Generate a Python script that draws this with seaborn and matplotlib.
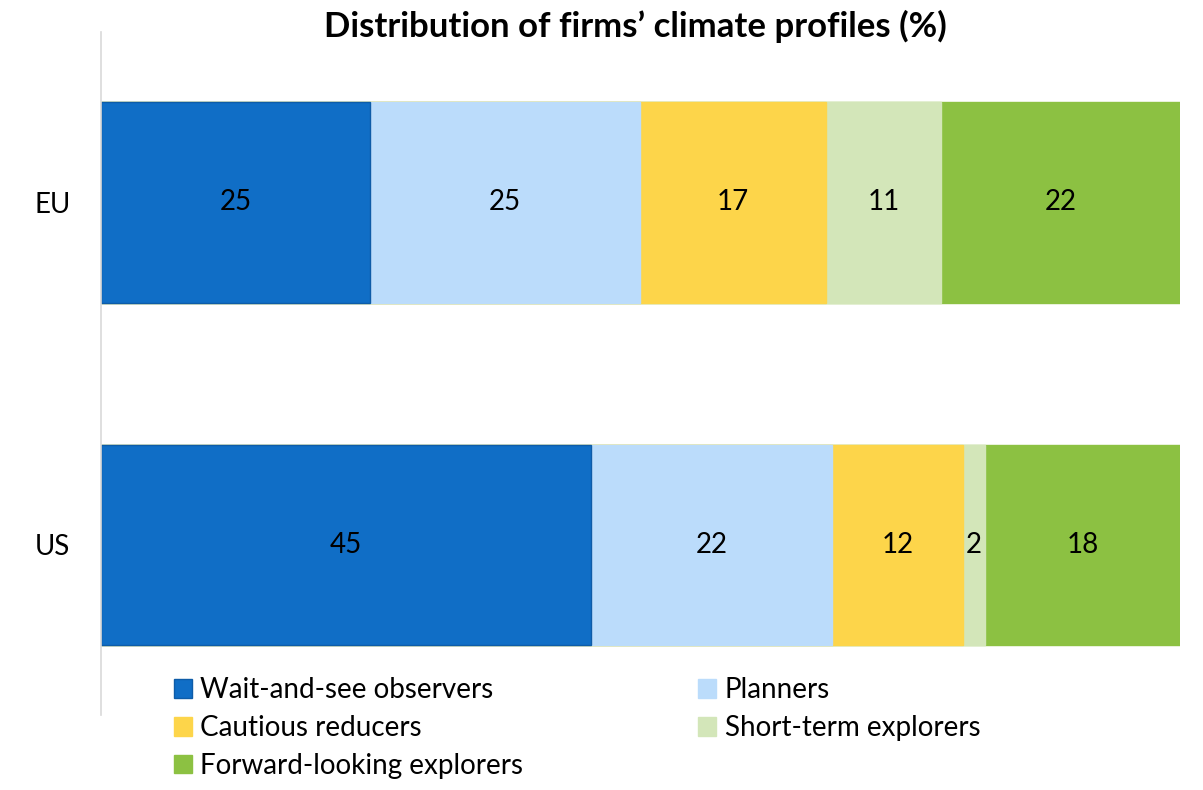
import matplotlib.pyplot as plt
import matplotlib.patches as mpatches
import pandas as pd
import seaborn as sns

regions = ["EU", "US"]
profiles = ["Wait-and-see observers", "Planners", "Cautious reducers",
            "Short-term explorers", "Forward-looking explorers"]
eu_share = [24.9, 25.0, 17.3, 10.6, 22.2]
us_share = [45.4, 22.3, 12.2, 2.0, 18.1]
colors = ["#106EC6", "#BBDCFB", "#FDD54A", "#D3E6B9", "#8CC142"]

sns.set_theme(style="white")
plt.rcParams["font.family"] = ["Lato", "DejaVu Sans"]
plt.rcParams["text.color"] = "black"
plt.rcParams["ytick.color"] = "black"

df = pd.DataFrame({"region": regions})
for name, a, b in zip(profiles, eu_share, us_share):
    df[name] = [a, b]
cum = df[profiles].cumsum(axis=1)

fig = plt.figure(figsize=(12.03, 7.90), dpi=100)
ax = fig.add_axes([0.084, 0.095, 0.897, 0.864])

# draw cumulative totals from the longest down so each segment stays visible
for i in range(len(profiles) - 1, -1, -1):
    edge = "#0E5CA8" if i == 0 else colors[i]
    sns.barplot(x=cum[profiles[i]], y=df["region"], orient="h", color=colors[i],
                width=0.586, edgecolor=edge, linewidth=1.0, ax=ax, saturation=1)

for r, region in enumerate(regions):
    for i, name in enumerate(profiles):
        v = df.loc[r, name]
        ax.text(cum.loc[r, name] - v / 2, r, f"{v:.0f}", ha="center", va="center",
                fontsize=20, color="black")

ax.set_xlim(0, 100)
ax.set_ylim(1.496, -0.496)
ax.set_xlabel("")
ax.set_ylabel("")
ax.set_xticks([])
ax.tick_params(axis="y", length=0, pad=22, labelsize=20, labelcolor="black")
for s in ["top", "right", "bottom"]:
    ax.spines[s].set_visible(False)
ax.spines["left"].set_color("#D9D9D9")
ax.spines["left"].set_linewidth(1.2)

fig.suptitle("Distribution of firms\u2019 climate profiles (%)", x=0.528, y=0.988,
             fontsize=25, fontweight="bold", color="black")

handles = [mpatches.Patch(facecolor=c, edgecolor=("#0E5CA8" if k == 0 else c))
           for k, c in enumerate(colors)]
order = [0, 2, 4, 1, 3]  # row-wise reading order in a 2-column legend
fig.legend([handles[k] for k in order], [profiles[k] for k in order], ncol=2,
           loc="upper left", bbox_to_anchor=(0.133, 0.16),
           frameon=False, fontsize=20, handlelength=0.65, handleheight=0.65,
           handletextpad=0.3, columnspacing=6.3, labelspacing=0.42, borderpad=0)

fig.savefig("out.png", dpi=100)
